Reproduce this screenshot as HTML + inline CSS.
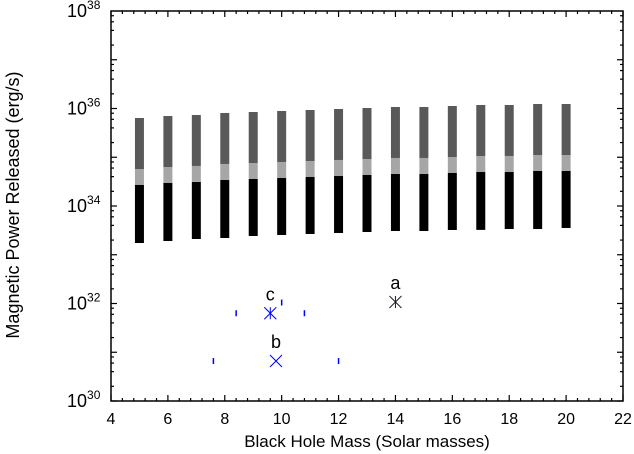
<!DOCTYPE html>
<html><head><meta charset="utf-8"><style>
html,body{margin:0;padding:0;background:#fff;width:634px;height:454px;overflow:hidden}
svg{display:block;font-family:"Liberation Sans",sans-serif}
</style></head><body>
<svg id="chart" width="634" height="454"></svg>
<script>
const masses=[5,6,7,8,9,10,11,12,13,14,15,16,17,18,19,20];
const topVals=[35.805,35.846,35.867,35.908,35.928,35.949,35.969,35.990,36.010,36.031,36.031,36.051,36.072,36.072,36.092,36.092];
const grayVals=[34.759,34.800,34.821,34.862,34.882,34.903,34.923,34.944,34.964,34.985,34.985,35.005,35.026,35.026,35.046,35.046];
const blackVals=[34.431,34.472,34.492,34.533,34.554,34.574,34.595,34.615,34.636,34.656,34.656,34.677,34.697,34.697,34.718,34.718];
const bottomVals=[33.241,33.282,33.323,33.344,33.385,33.405,33.426,33.446,33.467,33.487,33.487,33.508,33.51,33.528,33.528,33.549];
const pointLabels=["a","c","b"];
const pointMass=[14,9.6,9.8];
const pointLog=[32.03,31.8,30.82];
const errLo=[null,8.4,7.6];
const errHi=[null,10.8,12.0];
const xTicks=[4,6,8,10,12,14,16,18,20,22];
const yTicks=[30,32,34,36,38];

const L=111,R=623,T=11,B=401;
const xs=m=>L+(m-4)/18*(R-L);
const ys=v=>T+(38-v)/8*(B-T);
const NS="http://www.w3.org/2000/svg";
const svg=document.getElementById('chart');
function mk(tag,attrs,parent){const e=document.createElementNS(NS,tag);for(const k in attrs)e.setAttribute(k,attrs[k]);(parent||svg).appendChild(e);return e;}

masses.forEach((m,i)=>{
  const x=xs(m)-4.5;
  let r=mk('rect',{x:x,y:ys(topVals[i]),width:9,height:ys(grayVals[i])-ys(topVals[i]),fill:'#595959'});
  
  
  r=mk('rect',{x:x,y:ys(grayVals[i]),width:9,height:ys(blackVals[i])-ys(grayVals[i]),fill:'#a6a6a6'});
  
  
  r=mk('rect',{x:x,y:ys(blackVals[i]),width:9,height:ys(bottomVals[i])-ys(blackVals[i]),fill:'#000'});
  
  
});

pointLabels.forEach((lab,i)=>{
  const cx=xs(pointMass[i]),cy=ys(pointLog[i]);
  const g=mk('g',{});
  
  
  const col=lab==='a'?'#222':'#0000ff';
  mk('line',{x1:cx-6,y1:cy-6,x2:cx+6,y2:cy+6,stroke:col,'stroke-width':1},g);
  mk('line',{x1:cx-6,y1:cy+6,x2:cx+6,y2:cy-6,stroke:col,'stroke-width':1},g);
  if(lab!=='b'){mk('line',{x1:cx,y1:cy-6,x2:cx,y2:cy+6,stroke:lab==='a'?'#0000ff':col,'stroke-width':1},g);}
  if(errLo[i]!==null){
    mk('line',{x1:xs(errLo[i]),y1:cy-3,x2:xs(errLo[i]),y2:cy+3,stroke:'#0000ff','stroke-width':1.5},g);
    mk('line',{x1:xs(errHi[i]),y1:cy-3,x2:xs(errHi[i]),y2:cy+3,stroke:'#0000ff','stroke-width':1.5},g);
  }
  const t=mk('text',{x:cx,y:cy-13,'font-size':18,'text-anchor':'middle',fill:'#000'});
  t.textContent=lab;
  
  
});
mk('line',{x1:xs(10.0),y1:ys(32.02)-3,x2:xs(10.0),y2:ys(32.02)+3,stroke:'#0000ff','stroke-width':1.5});

const fr=mk('rect',{x:L,y:T,width:R-L,height:B-T,fill:'none',stroke:'#000','stroke-width':1.5});



for(let v=4;v<=22.001;v+=0.4){
  const x=xs(v);const major=Math.abs(v/2-Math.round(v/2))<0.01;
  const len=major?6:3;
  mk('line',{x1:x,y1:B,x2:x,y2:B-len,stroke:'#000','stroke-width':1.2});
  mk('line',{x1:x,y1:T,x2:x,y2:T+len,stroke:'#000','stroke-width':1.2});
}
xTicks.forEach(v=>{
  const t=mk('text',{x:xs(v),y:B+23,'font-size':16,'text-anchor':'middle'});
  t.textContent=v;
  
  
});
for(let d=30;d<38;d++){
  [1,2,4,6,8].forEach(k=>{
    const y=ys(d+Math.log10(k));const len=k===1?6:3;
    mk('line',{x1:L,y1:y,x2:L+len,y2:y,stroke:'#000','stroke-width':1.2});
    mk('line',{x1:R,y1:y,x2:R-len,y2:y,stroke:'#000','stroke-width':1.2});
  });
}
yTicks.forEach(v=>{
  const t=mk('text',{x:L-44,y:ys(v)+6,'font-size':18});
  t.textContent='10';
  const s=mk('tspan',{dy:-8,'font-size':12});s.textContent=v;t.appendChild(s);
  
  
});
const xt=mk('text',{x:367,y:447,'font-size':17,'text-anchor':'middle'});
xt.textContent='Black Hole Mass (Solar masses)';


const yt=mk('text',{x:0,y:0,'font-size':18,'text-anchor':'middle',transform:'translate(19,205) rotate(-90)'});
yt.textContent='Magnetic Power Released (erg/s)';


</script>
</body></html>
